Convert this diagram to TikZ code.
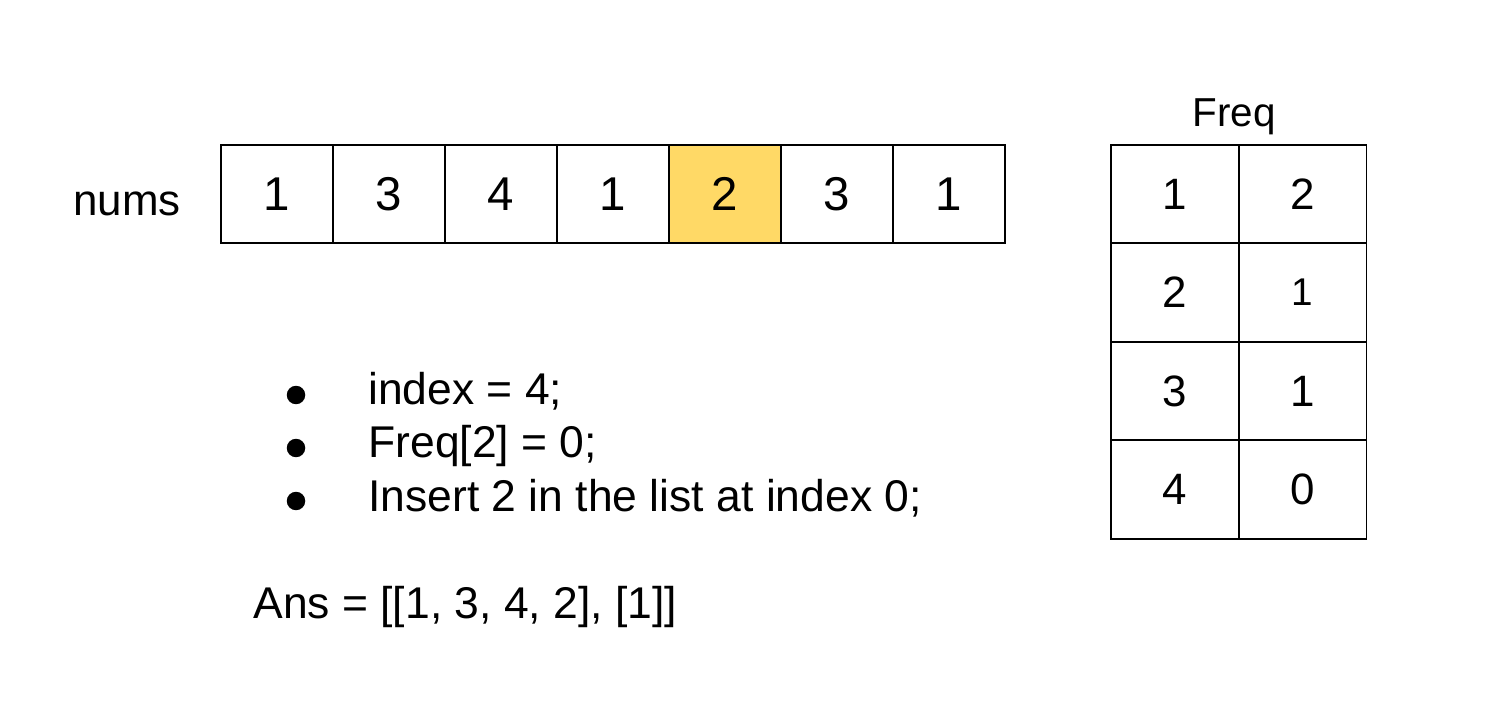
\documentclass[tikz,border=0pt]{standalone}
\usepackage{fontspec}
\setmainfont{Liberation Sans}
\usetikzlibrary{positioning}
\definecolor{pick}{HTML}{FFD966}
\newcommand{\fs}[1]{\fontsize{#1}{#1}\selectfont}

\begin{document}
\begin{tikzpicture}[x=0.02cm,y=-0.02cm,
  cell/.style={draw,line width=1.1pt,minimum width=2.24cm,minimum height=1.96cm,inner sep=0pt,font=\fs{27}},
  fcell/.style={draw,line width=1.1pt,minimum width=2.56cm,minimum height=1.97cm,inner sep=0pt,font=\fs{25}},
  dot/.style={circle,fill=black,minimum size=0.37cm,inner sep=0pt},
  itemtext/.style={anchor=base west,inner sep=0pt,font=\fs{25.3}}]
\useasboundingbox (0,0) rectangle (1487,722);
% nums array
\node[anchor=base west,inner sep=0pt,font=\fs{25}] (numslbl) at (73,216) {nums};
\foreach \v/\f [count=\i from 0] in {1/white,3/white,4/white,1/white,2/pick,3/white,1/white}
  \node[cell,fill=\f] (n\i) at (277+112*\i,194) {\v};
% Freq table
\node[anchor=base,inner sep=0pt,font=\fs{23}] (freqlbl) at (1234,127) {Freq};
\foreach \k/\c [count=\r from 0] in {1/2,2/{\fs{22}\raisebox{-3pt}{1}},3/1,4/0} {
  \node[fcell] (fk\r) at (1175,194+98.5*\r) {\k\hspace{9pt}};
  \node[fcell] (fc\r) at (1302.5,194+98.5*\r) {\c\hspace{7pt}};
}
% steps
\node[dot] (d1) at (296,395) {};
\node[dot] (d2) at (296,448) {};
\node[dot] (d3) at (296,501) {};
\node[itemtext] (s1) at (368,405) {index = 4;};
\node[itemtext] (s2) at (368,458) {Freq[2] = 0;};
\node[itemtext] (s3) at (368,511) {Insert 2 in the list at index 0;};
\node[itemtext] (ans) at (253,618) {Ans = [[1, 3, 4, 2], [1]]};
\end{tikzpicture}
\end{document}
